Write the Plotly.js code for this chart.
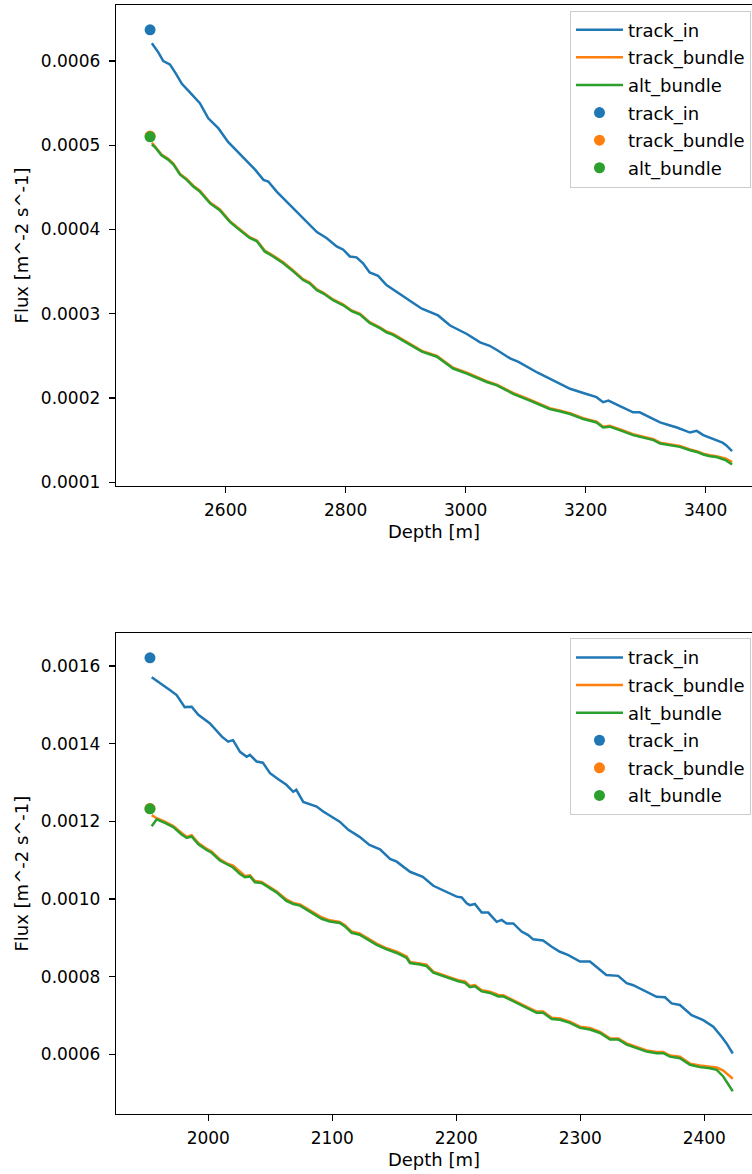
<!DOCTYPE html>
<html>
<head>
<meta charset="utf-8">
<script src="https://cdn.plot.ly/plotly-3.0.1.min.js"></script>
<style>
  html, body { margin: 0; padding: 0; background: #fff; overflow: hidden; }
  #chart { width: 752px; height: 1174px; }
</style>
</head>
<body>
<div id="chart"></div>
<script>
// ---------------- Top panel data ----------------
const topInDepth = [2477,2488,2496,2507,2517,2527,2540,2557,2571,2588,2604,2618,2635,2649,2663,2671,2685,2702,2718,2735,2752,2768,2785,2796,2807,2818,2829,2840,2854,2868,2882,2896,2912,2927,2940,2954,2974,2988,3002,3024,3040,3052,3074,3088,3102,3120,3140,3158,3174,3196,3218,3229,3238,3258,3279,3290,3307,3324,3338,3352,3374,3385,3396,3407,3418,3428,3434,3444];
const topInFlux = [0.000621,0.000610,0.000600,0.000596,0.000585,0.000573,0.000563,0.000550,0.000532,0.000520,0.000504,0.000494,0.000481,0.000471,0.000459,0.000457,0.000445,0.000433,0.000421,0.000409,0.000397,0.000390,0.000380,0.000376,0.000368,0.000367,0.000360,0.000349,0.000345,0.000334,0.000327,0.000320,0.000313,0.000306,0.000302,0.000298,0.000286,0.000281,0.000276,0.000266,0.000262,0.000257,0.000247,0.000243,0.000237,0.000230,0.000223,0.000217,0.000211,0.000206,0.000201,0.000195,0.000197,0.000190,0.000183,0.000183,0.000177,0.000171,0.000168,0.000165,0.000159,0.000161,0.000156,0.000153,0.000150,0.000147,0.000144,0.000137];

const topBundleDepth = [2477,2482,2493,2504,2513,2524,2535,2546,2557,2574,2590,2607,2624,2640,2652,2665,2679,2696,2713,2729,2740,2752,2763,2779,2796,2810,2824,2840,2857,2868,2879,2896,2912,2927,2952,2979,3002,3018,3035,3052,3079,3107,3124,3140,3158,3174,3196,3218,3229,3240,3260,3279,3296,3313,3324,3340,3357,3374,3385,3396,3407,3418,3434,3444];
const topBundleFlux = [0.000503,0.000499,0.000489,0.000484,0.000478,0.000466,0.000460,0.000452,0.000446,0.000432,0.000424,0.000410,0.000400,0.000391,0.000387,0.000375,0.000369,0.000361,0.000351,0.000341,0.000337,0.000329,0.000325,0.000317,0.000311,0.000304,0.000300,0.000290,0.000284,0.000279,0.000276,0.000269,0.000263,0.000256,0.000250,0.000236,0.000230,0.000225,0.000220,0.000216,0.000206,0.000198,0.000193,0.000188,0.000185,0.000182,0.000176,0.000172,0.000166,0.000167,0.000162,0.000157,0.000154,0.000151,0.000147,0.000145,0.000143,0.000139,0.000137,0.000134,0.000132,0.000131,0.000128,0.000124];
const topAltFlux = [0.000501,0.000498,0.000488,0.000483,0.000477,0.000465,0.000459,0.000451,0.000445,0.000431,0.000423,0.000409,0.000399,0.000390,0.000386,0.000374,0.000368,0.000360,0.000350,0.000340,0.000336,0.000328,0.000324,0.000316,0.000310,0.000303,0.000299,0.000289,0.000283,0.000278,0.000275,0.000268,0.000262,0.000255,0.000249,0.000235,0.000229,0.000224,0.000219,0.000215,0.000205,0.000197,0.000192,0.000187,0.000184,0.000181,0.000175,0.000171,0.000165,0.000166,0.000161,0.000156,0.000153,0.000150,0.000146,0.000144,0.000142,0.000138,0.000136,0.000133,0.000131,0.000130,0.000126,0.000121];

const topDotDepth = [2474];
const topDotIn = [0.000637];
const topDotBundle = [0.000511];
const topDotAlt = [0.000510];

// ---------------- Bottom panel data ----------------
const botInDepth = [1954.4,1961,1969,1974.5,1981,1986.6,1992,2001.4,2011,2016,2020,2025.6,2031,2033.6,2039,2044,2049.8,2056.5,2063,2068.5,2071,2076.6,2082,2087.4,2092.7,2098,2106,2113,2117,2122,2130,2138.5,2146.6,2152,2162.7,2173,2181.5,2192,2200.3,2204.4,2208.4,2211,2215,2220.5,2225.8,2232.6,2236.6,2240.6,2246,2252.7,2258,2262,2270,2277,2283.6,2290,2299.8,2307.8,2313,2321,2330.6,2337.4,2342.7,2353.5,2361.6,2368.3,2373.7,2380.4,2389.8,2399.2,2407.3,2414,2418,2423];
const botInFlux = [0.001571,0.001555,0.001538,0.001525,0.001494,0.001495,0.001474,0.001452,0.001418,0.001405,0.001409,0.001379,0.001366,0.001371,0.001354,0.001351,0.001324,0.001308,0.001294,0.001276,0.001281,0.001250,0.001243,0.001238,0.001225,0.001215,0.001199,0.001178,0.001169,0.001160,0.001139,0.001128,0.001103,0.001096,0.001070,0.001057,0.001034,0.001019,0.001006,0.001004,0.000989,0.000984,0.000987,0.000965,0.000965,0.000941,0.000946,0.000937,0.000937,0.000916,0.000907,0.000896,0.000893,0.000877,0.000864,0.000856,0.000839,0.000839,0.000826,0.000804,0.000802,0.000783,0.000778,0.000761,0.000748,0.000747,0.000731,0.000727,0.000701,0.000688,0.000671,0.000645,0.000628,0.000602];

const botBundleDepth = [1954.4,1958.4,1965,1971.8,1978.5,1982.6,1986.6,1992,1998.7,2002.7,2009.4,2016,2020,2025.6,2029.6,2033.6,2037.7,2043,2048.4,2055,2063,2068.5,2074,2080.6,2084.7,2091.4,2098,2106,2110,2115.6,2122,2130,2135.8,2143.9,2152,2160,2162.7,2170.7,2176,2181.5,2189.5,2196.3,2201.6,2207,2211,2215,2220.5,2227.2,2234,2238,2243.3,2251.4,2256.8,2264.8,2270,2277,2283.6,2291.7,2299.8,2307.8,2315.9,2324,2330.6,2337.4,2345.5,2353.5,2361.6,2367,2372.3,2380.4,2388.5,2396.5,2404.6,2410,2415.3,2423];
const botBundleFlux = [0.001216,0.001208,0.001199,0.001188,0.001170,0.001160,0.001164,0.001144,0.001129,0.001122,0.001102,0.001090,0.001086,0.001070,0.001059,0.001061,0.001046,0.001044,0.001033,0.001020,0.000999,0.000990,0.000986,0.000973,0.000966,0.000953,0.000945,0.000941,0.000933,0.000916,0.000911,0.000896,0.000885,0.000873,0.000864,0.000852,0.000838,0.000834,0.000831,0.000813,0.000804,0.000795,0.000791,0.000788,0.000776,0.000778,0.000765,0.000761,0.000753,0.000752,0.000744,0.000731,0.000722,0.000710,0.000710,0.000694,0.000692,0.000684,0.000671,0.000668,0.000658,0.000641,0.000641,0.000628,0.000619,0.000610,0.000606,0.000606,0.000597,0.000594,0.000576,0.000571,0.000568,0.000566,0.000558,0.000537];
const botAltFlux = [0.001187,0.001205,0.001196,0.001185,0.001166,0.001157,0.001161,0.001141,0.001126,0.001119,0.001099,0.001087,0.001081,0.001064,0.001056,0.001058,0.001043,0.001041,0.001030,0.001017,0.000995,0.000987,0.000983,0.000970,0.000962,0.000949,0.000942,0.000938,0.000930,0.000913,0.000908,0.000893,0.000882,0.000870,0.000861,0.000848,0.000835,0.000831,0.000827,0.000810,0.000801,0.000792,0.000788,0.000784,0.000773,0.000775,0.000762,0.000758,0.000749,0.000749,0.000741,0.000728,0.000719,0.000707,0.000707,0.000691,0.000689,0.000681,0.000668,0.000664,0.000655,0.000638,0.000638,0.000625,0.000616,0.000607,0.000603,0.000603,0.000594,0.000590,0.000573,0.000567,0.000564,0.000560,0.000543,0.000505];

const botDotDepth = [1953];
const botDotIn = [0.001621];
const botDotBundle = [0.001233];
const botDotAlt = [0.001232];

const seriesNames = ['track_in', 'track_bundle', 'alt_bundle'];
const colors = ['#1f77b4', '#ff7f0e', '#2ca02c'];

// ---------------- Traces ----------------
function lineTrace(x, y, i, xa, ya, leg, grp) {
  return {x: x, y: y, type: 'scatter', mode: 'lines', name: seriesNames[i],
    line: {color: colors[i], width: 2.5}, xaxis: xa, yaxis: ya,
    legend: leg, legendgroup: grp, showlegend: true};
}
function dotTrace(x, y, i, xa, ya, leg, grp) {
  return {x: x, y: y, type: 'scatter', mode: 'markers', name: seriesNames[i],
    marker: {color: colors[i], size: 11}, xaxis: xa, yaxis: ya,
    legend: leg, legendgroup: grp, showlegend: true};
}

const data = [
  lineTrace(topInDepth, topInFlux, 0, 'x', 'y', 'legend', 'a1'),
  lineTrace(topBundleDepth, topBundleFlux, 1, 'x', 'y', 'legend', 'a2'),
  lineTrace(topBundleDepth, topAltFlux, 2, 'x', 'y', 'legend', 'a3'),
  dotTrace(topDotDepth, topDotIn, 0, 'x', 'y', 'legend', 'a4'),
  dotTrace(topDotDepth, topDotBundle, 1, 'x', 'y', 'legend', 'a5'),
  dotTrace(topDotDepth, topDotAlt, 2, 'x', 'y', 'legend', 'a6'),
  lineTrace(botInDepth, botInFlux, 0, 'x2', 'y2', 'legend2', 'b1'),
  lineTrace(botBundleDepth, botBundleFlux, 1, 'x2', 'y2', 'legend2', 'b2'),
  lineTrace(botBundleDepth, botAltFlux, 2, 'x2', 'y2', 'legend2', 'b3'),
  dotTrace(botDotDepth, botDotIn, 0, 'x2', 'y2', 'legend2', 'b4'),
  dotTrace(botDotDepth, botDotBundle, 1, 'x2', 'y2', 'legend2', 'b5'),
  dotTrace(botDotDepth, botDotAlt, 2, 'x2', 'y2', 'legend2', 'b6')
];

const FONT = 'DejaVu Sans, sans-serif';
const TITLE_FONT = {family: FONT, size: 18, color: '#000'};
const axisCommon = {
  showline: true, linecolor: '#000', linewidth: 1.3,
  ticks: 'outside', ticklen: 6, tickwidth: 1.3, tickcolor: '#000',
  showgrid: false, zeroline: false,
  tickfont: {family: FONT, size: 17, color: '#000'}
};
const xCommon = Object.assign({}, axisCommon, {ticklabelstandoff: 2});
const yCommon = Object.assign({}, axisCommon, {ticklabelstandoff: 5});
const legendCommon = {
  font: {family: FONT, size: 18, color: '#000'},
  bgcolor: 'rgba(255,255,255,0.8)', bordercolor: '#cccccc', borderwidth: 1,
  xref: 'paper', yref: 'paper', x: 0.9984, xanchor: 'right', yanchor: 'top',
  tracegroupgap: 1.2, itemwidth: 47
};

const layout = {
  width: 752, height: 1174,
  margin: {l: 116, r: 0, t: 5, b: 60},
  paper_bgcolor: '#fff', plot_bgcolor: '#fff',
  font: {family: FONT, size: 17, color: '#000'},
  xaxis: Object.assign({}, xCommon, {
    domain: [0, 1], anchor: 'y', range: [2417.2, 3477.2], mirror: true,
    tick0: 0, dtick: 200,
    title: {text: 'Depth [m]', font: TITLE_FONT, standoff: 6}
  }),
  yaxis: Object.assign({}, yCommon, {
    domain: [0.5663, 1], anchor: 'x', range: [0.0000956, 0.0006665],
    tick0: 0, dtick: 0.0001, tickformat: '.4f',
    title: {text: 'Flux [m^-2 s^-1]', font: TITLE_FONT, standoff: 7}
  }),
  xaxis2: Object.assign({}, xCommon, {
    domain: [0, 1], anchor: 'y2', range: [1925.6, 2438.5], mirror: true,
    tick0: 0, dtick: 100,
    title: {text: 'Depth [m]', font: TITLE_FONT, standoff: 6}
  }),
  yaxis2: Object.assign({}, yCommon, {
    domain: [0, 0.4335], anchor: 'x2', range: [0.0004463, 0.0016842],
    tick0: 0, dtick: 0.0002, tickformat: '.4f',
    title: {text: 'Flux [m^-2 s^-1]', font: TITLE_FONT, standoff: 7}
  }),
  legend: Object.assign({}, legendCommon, {y: 0.995}),
  legend2: Object.assign({}, legendCommon, {y: 0.429}),
  showlegend: true
};

Plotly.newPlot('chart', data, layout, {staticPlot: true, displayModeBar: false});
</script>
</body>
</html>
